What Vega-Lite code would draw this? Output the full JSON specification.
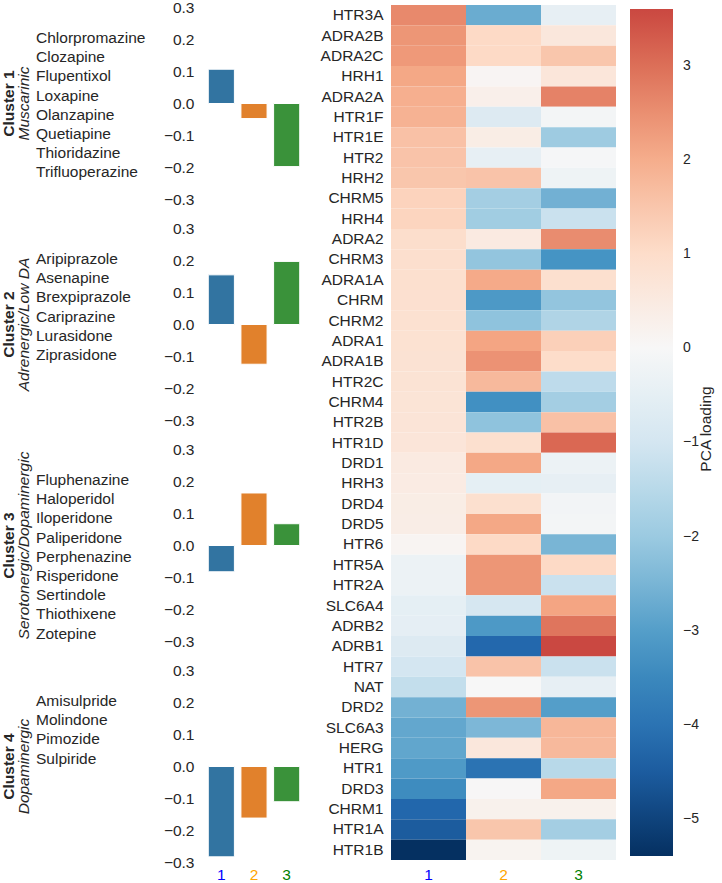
{
  "$schema": "https://vega.github.io/schema/vega-lite/v6.json",
  "padding": {"left": 1, "top": 0, "right": 0, "bottom": 0},
  "background": "white",
  "config": {
    "font": "Liberation Sans",
    "view": {"stroke": null},
    "axis": {"domain": false, "ticks": false, "grid": false, "labelFontSize": 15.5, "labelColor": "#262626", "titleColor": "#262626", "titleFontWeight": "normal", "titleFontSize": 15.5, "labelFont": "Liberation Sans", "titleFont": "Liberation Sans"}
  },
  "datasets": {
    "bars": [
      {"cluster": 1, "pc": "1", "value": 0.107}, {"cluster": 1, "pc": "2", "value": -0.047}, {"cluster": 1, "pc": "3", "value": -0.197},
      {"cluster": 2, "pc": "1", "value": 0.155}, {"cluster": 2, "pc": "2", "value": -0.124}, {"cluster": 2, "pc": "3", "value": 0.197},
      {"cluster": 3, "pc": "1", "value": -0.082}, {"cluster": 3, "pc": "2", "value": 0.164}, {"cluster": 3, "pc": "3", "value": 0.068},
      {"cluster": 4, "pc": "1", "value": -0.282}, {"cluster": 4, "pc": "2", "value": -0.161}, {"cluster": 4, "pc": "3", "value": -0.11}
    ],
    "heat": [
      {"receptor": "HTR3A", "pc": "1", "loading": 2.6}, {"receptor": "HTR3A", "pc": "2", "loading": -2.7}, {"receptor": "HTR3A", "pc": "3", "loading": -0.45},
      {"receptor": "ADRA2B", "pc": "1", "loading": 2.4}, {"receptor": "ADRA2B", "pc": "2", "loading": 1.1}, {"receptor": "ADRA2B", "pc": "3", "loading": 0.6},
      {"receptor": "ADRA2C", "pc": "1", "loading": 2.35}, {"receptor": "ADRA2C", "pc": "2", "loading": 1.1}, {"receptor": "ADRA2C", "pc": "3", "loading": 1.5},
      {"receptor": "HRH1", "pc": "1", "loading": 2.1}, {"receptor": "HRH1", "pc": "2", "loading": 0.1}, {"receptor": "HRH1", "pc": "3", "loading": 0.65},
      {"receptor": "ADRA2A", "pc": "1", "loading": 1.95}, {"receptor": "ADRA2A", "pc": "2", "loading": 0.3}, {"receptor": "ADRA2A", "pc": "3", "loading": 2.7},
      {"receptor": "HTR1F", "pc": "1", "loading": 1.9}, {"receptor": "HTR1F", "pc": "2", "loading": -0.75}, {"receptor": "HTR1F", "pc": "3", "loading": -0.1},
      {"receptor": "HTR1E", "pc": "1", "loading": 1.6}, {"receptor": "HTR1E", "pc": "2", "loading": 0.4}, {"receptor": "HTR1E", "pc": "3", "loading": -1.95},
      {"receptor": "HTR2", "pc": "1", "loading": 1.55}, {"receptor": "HTR2", "pc": "2", "loading": -0.45}, {"receptor": "HTR2", "pc": "3", "loading": -0.05},
      {"receptor": "HRH2", "pc": "1", "loading": 1.5}, {"receptor": "HRH2", "pc": "2", "loading": 1.55}, {"receptor": "HRH2", "pc": "3", "loading": -0.25},
      {"receptor": "CHRM5", "pc": "1", "loading": 1.24}, {"receptor": "CHRM5", "pc": "2", "loading": -1.85}, {"receptor": "CHRM5", "pc": "3", "loading": -2.6},
      {"receptor": "HRH4", "pc": "1", "loading": 1.2}, {"receptor": "HRH4", "pc": "2", "loading": -1.9}, {"receptor": "HRH4", "pc": "3", "loading": -1.2},
      {"receptor": "ADRA2", "pc": "1", "loading": 0.96}, {"receptor": "ADRA2", "pc": "2", "loading": 0.5}, {"receptor": "ADRA2", "pc": "3", "loading": 2.55},
      {"receptor": "CHRM3", "pc": "1", "loading": 0.93}, {"receptor": "CHRM3", "pc": "2", "loading": -2.15}, {"receptor": "CHRM3", "pc": "3", "loading": -3.2},
      {"receptor": "ADRA1A", "pc": "1", "loading": 0.9}, {"receptor": "ADRA1A", "pc": "2", "loading": 2.05}, {"receptor": "ADRA1A", "pc": "3", "loading": 0.9},
      {"receptor": "CHRM", "pc": "1", "loading": 0.87}, {"receptor": "CHRM", "pc": "2", "loading": -3.1}, {"receptor": "CHRM", "pc": "3", "loading": -2.15},
      {"receptor": "CHRM2", "pc": "1", "loading": 0.85}, {"receptor": "CHRM2", "pc": "2", "loading": -2.2}, {"receptor": "CHRM2", "pc": "3", "loading": -1.65},
      {"receptor": "ADRA1", "pc": "1", "loading": 0.82}, {"receptor": "ADRA1", "pc": "2", "loading": 2.15}, {"receptor": "ADRA1", "pc": "3", "loading": 1.3},
      {"receptor": "ADRA1B", "pc": "1", "loading": 0.8}, {"receptor": "ADRA1B", "pc": "2", "loading": 2.45}, {"receptor": "ADRA1B", "pc": "3", "loading": 1.0},
      {"receptor": "HTR2C", "pc": "1", "loading": 0.78}, {"receptor": "HTR2C", "pc": "2", "loading": 1.75}, {"receptor": "HTR2C", "pc": "3", "loading": -1.4},
      {"receptor": "CHRM4", "pc": "1", "loading": 0.75}, {"receptor": "CHRM4", "pc": "2", "loading": -3.3}, {"receptor": "CHRM4", "pc": "3", "loading": -1.85},
      {"receptor": "HTR2B", "pc": "1", "loading": 0.72}, {"receptor": "HTR2B", "pc": "2", "loading": -2.2}, {"receptor": "HTR2B", "pc": "3", "loading": 1.6},
      {"receptor": "HTR1D", "pc": "1", "loading": 0.68}, {"receptor": "HTR1D", "pc": "2", "loading": 0.9}, {"receptor": "HTR1D", "pc": "3", "loading": 3.1},
      {"receptor": "DRD1", "pc": "1", "loading": 0.5}, {"receptor": "DRD1", "pc": "2", "loading": 2.1}, {"receptor": "DRD1", "pc": "3", "loading": -0.3},
      {"receptor": "HRH3", "pc": "1", "loading": 0.45}, {"receptor": "HRH3", "pc": "2", "loading": -0.5}, {"receptor": "HRH3", "pc": "3", "loading": -0.45},
      {"receptor": "DRD4", "pc": "1", "loading": 0.4}, {"receptor": "DRD4", "pc": "2", "loading": 0.9}, {"receptor": "DRD4", "pc": "3", "loading": -0.15},
      {"receptor": "DRD5", "pc": "1", "loading": 0.38}, {"receptor": "DRD5", "pc": "2", "loading": 2.1}, {"receptor": "DRD5", "pc": "3", "loading": -0.12},
      {"receptor": "HTR6", "pc": "1", "loading": 0.12}, {"receptor": "HTR6", "pc": "2", "loading": 1.1}, {"receptor": "HTR6", "pc": "3", "loading": -2.5},
      {"receptor": "HTR5A", "pc": "1", "loading": -0.3}, {"receptor": "HTR5A", "pc": "2", "loading": 2.4}, {"receptor": "HTR5A", "pc": "3", "loading": 1.1},
      {"receptor": "HTR2A", "pc": "1", "loading": -0.32}, {"receptor": "HTR2A", "pc": "2", "loading": 2.4}, {"receptor": "HTR2A", "pc": "3", "loading": -1.2},
      {"receptor": "SLC6A4", "pc": "1", "loading": -0.5}, {"receptor": "SLC6A4", "pc": "2", "loading": -0.95}, {"receptor": "SLC6A4", "pc": "3", "loading": 2.15},
      {"receptor": "ADRB2", "pc": "1", "loading": -0.52}, {"receptor": "ADRB2", "pc": "2", "loading": -3.1}, {"receptor": "ADRB2", "pc": "3", "loading": 2.9},
      {"receptor": "ADRB1", "pc": "1", "loading": -0.75}, {"receptor": "ADRB1", "pc": "2", "loading": -4.25}, {"receptor": "ADRB1", "pc": "3", "loading": 3.6},
      {"receptor": "HTR7", "pc": "1", "loading": -1.0}, {"receptor": "HTR7", "pc": "2", "loading": 1.55}, {"receptor": "HTR7", "pc": "3", "loading": -1.2},
      {"receptor": "NAT", "pc": "1", "loading": -1.32}, {"receptor": "NAT", "pc": "2", "loading": 0.0}, {"receptor": "NAT", "pc": "3", "loading": -0.45},
      {"receptor": "DRD2", "pc": "1", "loading": -2.58}, {"receptor": "DRD2", "pc": "2", "loading": 2.4}, {"receptor": "DRD2", "pc": "3", "loading": -3.0},
      {"receptor": "SLC6A3", "pc": "1", "loading": -2.8}, {"receptor": "SLC6A3", "pc": "2", "loading": -2.45}, {"receptor": "SLC6A3", "pc": "3", "loading": 1.8},
      {"receptor": "HERG", "pc": "1", "loading": -2.82}, {"receptor": "HERG", "pc": "2", "loading": 0.6}, {"receptor": "HERG", "pc": "3", "loading": 1.75},
      {"receptor": "HTR1", "pc": "1", "loading": -3.07}, {"receptor": "HTR1", "pc": "2", "loading": -4.0}, {"receptor": "HTR1", "pc": "3", "loading": -1.5},
      {"receptor": "DRD3", "pc": "1", "loading": -3.4}, {"receptor": "DRD3", "pc": "2", "loading": 0.02}, {"receptor": "DRD3", "pc": "3", "loading": 2.1},
      {"receptor": "CHRM1", "pc": "1", "loading": -4.29}, {"receptor": "CHRM1", "pc": "2", "loading": 0.25}, {"receptor": "CHRM1", "pc": "3", "loading": 0.25},
      {"receptor": "HTR1A", "pc": "1", "loading": -4.51}, {"receptor": "HTR1A", "pc": "2", "loading": 1.5}, {"receptor": "HTR1A", "pc": "3", "loading": -1.85},
      {"receptor": "HTR1B", "pc": "1", "loading": -5.39}, {"receptor": "HTR1B", "pc": "2", "loading": 0.15}, {"receptor": "HTR1B", "pc": "3", "loading": -0.25}
    ]
  },
  "resolve": {"scale": {"color": "independent", "x": "independent", "y": "independent"}},
  "spacing": 17,
  "hconcat": [
    {
      "spacing": 12,
      "vconcat": [
        {
          "width": 98, "height": 205,
          "data": {"name": "bars"},
          "transform": [{"filter": "datum.cluster == 1"}],
          "title": {"text": "Cluster 1", "subtitle": "Muscarinic", "orient": "left", "anchor": "middle", "offset": 3, "fontSize": 15.5, "fontWeight": "bold", "color": "#262626", "subtitleFontSize": 15.5, "subtitleFontStyle": "italic", "subtitleFontWeight": "normal", "subtitleColor": "#262626", "subtitlePadding": 0},
          "mark": {"type": "bar", "stroke": "white", "strokeWidth": 1},
          "encoding": {
            "x": {"field": "pc", "type": "nominal", "scale": {"domain": ["1", "2", "3"], "paddingInner": 0.2, "paddingOuter": 0.1}, "axis": null},
            "y": {"field": "value", "type": "quantitative", "scale": {"domain": [-0.32, 0.32], "nice": false}, "axis": {"values": [-0.3, -0.2, -0.1, 0, 0.1, 0.2, 0.3], "format": ".1f", "labelPadding": 11, "title": ["Chlorpromazine", "Clozapine", "Flupentixol", "Loxapine", "Olanzapine", "Quetiapine", "Thioridazine", "Trifluoperazine"], "titleAngle": 0, "titleAlign": "left", "titleBaseline": "top", "titleX": -169.5, "titleY": 29.5, "titleLineHeight": 19.2}},
            "color": {"field": "pc", "type": "nominal", "scale": {"domain": ["1", "2", "3"], "range": ["#3274a1", "#e1812c", "#3a923a"]}, "legend": null}
          }
        },
        {
          "width": 98, "height": 205,
          "data": {"name": "bars"},
          "transform": [{"filter": "datum.cluster == 2"}],
          "title": {"text": "Cluster 2", "subtitle": "Adrenergic/Low DA", "orient": "left", "anchor": "middle", "offset": 3, "fontSize": 15.5, "fontWeight": "bold", "color": "#262626", "subtitleFontSize": 15.5, "subtitleFontStyle": "italic", "subtitleFontWeight": "normal", "subtitleColor": "#262626", "subtitlePadding": 0},
          "mark": {"type": "bar", "stroke": "white", "strokeWidth": 1},
          "encoding": {
            "x": {"field": "pc", "type": "nominal", "scale": {"domain": ["1", "2", "3"], "paddingInner": 0.2, "paddingOuter": 0.1}, "axis": null},
            "y": {"field": "value", "type": "quantitative", "scale": {"domain": [-0.32, 0.32], "nice": false}, "axis": {"values": [-0.3, -0.2, -0.1, 0, 0.1, 0.2, 0.3], "format": ".1f", "labelPadding": 11, "title": ["Aripiprazole", "Asenapine", "Brexpiprazole", "Cariprazine", "Lurasidone", "Ziprasidone"], "titleAngle": 0, "titleAlign": "left", "titleBaseline": "top", "titleX": -169.5, "titleY": 29.5, "titleLineHeight": 19.2}},
            "color": {"field": "pc", "type": "nominal", "scale": {"domain": ["1", "2", "3"], "range": ["#3274a1", "#e1812c", "#3a923a"]}, "legend": null}
          }
        },
        {
          "width": 98, "height": 205,
          "data": {"name": "bars"},
          "transform": [{"filter": "datum.cluster == 3"}],
          "title": {"text": "Cluster 3", "subtitle": "Serotonergic/Dopaminergic", "orient": "left", "anchor": "middle", "offset": 3, "fontSize": 15.5, "fontWeight": "bold", "color": "#262626", "subtitleFontSize": 15.5, "subtitleFontStyle": "italic", "subtitleFontWeight": "normal", "subtitleColor": "#262626", "subtitlePadding": 0},
          "mark": {"type": "bar", "stroke": "white", "strokeWidth": 1},
          "encoding": {
            "x": {"field": "pc", "type": "nominal", "scale": {"domain": ["1", "2", "3"], "paddingInner": 0.2, "paddingOuter": 0.1}, "axis": null},
            "y": {"field": "value", "type": "quantitative", "scale": {"domain": [-0.32, 0.32], "nice": false}, "axis": {"values": [-0.3, -0.2, -0.1, 0, 0.1, 0.2, 0.3], "format": ".1f", "labelPadding": 11, "title": ["Fluphenazine", "Haloperidol", "Iloperidone", "Paliperidone", "Perphenazine", "Risperidone", "Sertindole", "Thiothixene", "Zotepine"], "titleAngle": 0, "titleAlign": "left", "titleBaseline": "top", "titleX": -169.5, "titleY": 29.5, "titleLineHeight": 19.2}},
            "color": {"field": "pc", "type": "nominal", "scale": {"domain": ["1", "2", "3"], "range": ["#3274a1", "#e1812c", "#3a923a"]}, "legend": null}
          }
        },
        {
          "width": 98, "height": 205,
          "data": {"name": "bars"},
          "transform": [{"filter": "datum.cluster == 4"}],
          "title": {"text": "Cluster 4", "subtitle": "Dopaminergic", "orient": "left", "anchor": "middle", "offset": 3, "fontSize": 15.5, "fontWeight": "bold", "color": "#262626", "subtitleFontSize": 15.5, "subtitleFontStyle": "italic", "subtitleFontWeight": "normal", "subtitleColor": "#262626", "subtitlePadding": 0},
          "mark": {"type": "bar", "stroke": "white", "strokeWidth": 1},
          "encoding": {
            "x": {"field": "pc", "type": "nominal", "scale": {"domain": ["1", "2", "3"], "paddingInner": 0.2, "paddingOuter": 0.1}, "axis": {"title": null, "labelAngle": 0, "labelPadding": -2, "labelColor": {"condition": [{"test": "datum.value == '1'", "value": "blue"}, {"test": "datum.value == '2'", "value": "orange"}], "value": "green"}}},
            "y": {"field": "value", "type": "quantitative", "scale": {"domain": [-0.32, 0.32], "nice": false}, "axis": {"values": [-0.3, -0.2, -0.1, 0, 0.1, 0.2, 0.3], "format": ".1f", "labelPadding": 11, "title": ["Amisulpride", "Molindone", "Pimozide", "Sulpiride"], "titleAngle": 0, "titleAlign": "left", "titleBaseline": "top", "titleX": -169.5, "titleY": 29.5, "titleLineHeight": 19.2}},
            "color": {"field": "pc", "type": "nominal", "scale": {"domain": ["1", "2", "3"], "range": ["#3274a1", "#e1812c", "#3a923a"]}, "legend": null}
          }
        }
      ]
    },
    {
      "width": 225, "height": 863,
      "data": {"name": "heat"},
      "mark": "rect",
      "encoding": {
        "x": {"field": "pc", "type": "nominal", "scale": {"paddingInner": 0, "paddingOuter": 0}, "axis": {"title": null, "labelAngle": 0, "labelPadding": 3, "labelColor": {"condition": [{"test": "datum.value == '1'", "value": "blue"}, {"test": "datum.value == '2'", "value": "orange"}], "value": "green"}}},
        "y": {"field": "receptor", "type": "nominal", "sort": null, "scale": {"paddingInner": 0, "paddingOuter": 0.1965}, "axis": {"title": null, "labelPadding": 8}},
        "color": {
          "field": "loading", "type": "quantitative",
          "scale": {"domain": [-5.39, -4.31, -3.23, -2.16, -1.078, 0, 1.078, 2.16, 3.23, 3.6], "range": ["#053061", "#2166ac", "#4393c3", "#92c5de", "#d1e5f0", "#f7f7f7", "#fddbc7", "#f4a582", "#d6604d", "#ca4841"], "interpolate": "rgb"},
          "legend": {"title": "PCA loading", "orient": "right", "direction": "vertical", "offset": 6, "padding": 8, "gradientLength": 847, "gradientThickness": 43, "gradientStrokeWidth": 0, "values": [-5, -4, -3, -2, -1, 0, 1, 2, 3], "format": "d", "labelFontSize": 14, "labelOffset": 10, "labelColor": "#262626", "labelFont": "Liberation Sans", "titleOrient": "right", "titleAnchor": "middle", "titleBaseline": "top", "titleFontSize": 15.5, "titleFontWeight": "normal", "titleColor": "#262626", "titleFont": "Liberation Sans", "titlePadding": 0, "encoding": {"title": {"angle": {"value": -90}, "baseline": {"value": "top"}}}}
        }
      }
    }
  ]
}
